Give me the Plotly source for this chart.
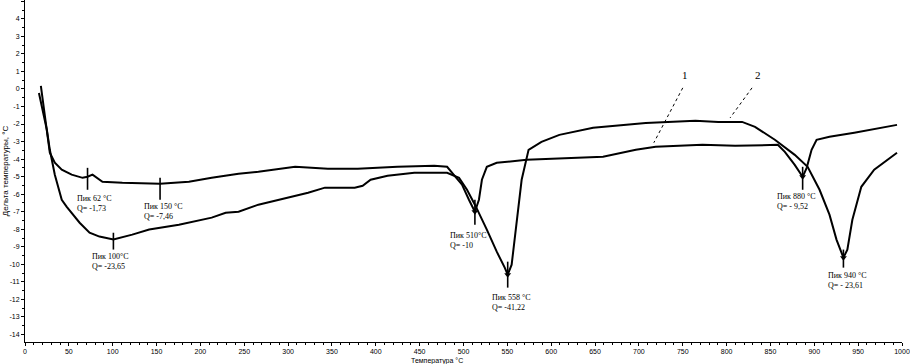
import plotly.graph_objects as go

# Curve 1 (lower curve on the right, peaks at 62, 150, 510, 880 °C)
t1 = [18.1, 21.5, 24.9, 28.3, 34.0, 41.9, 53.2, 65.7, 71.3, 77.0, 88.3, 111.0, 154.0,
      186.9, 212.9, 243.5, 266.1, 308.0, 345.4, 379.4, 424.7, 466.6, 481.3, 489.2,
      498.3, 506.2, 513.0, 517.6, 521.0, 526.6, 537.9, 571.9, 609.3, 659.1, 696.5,
      719.1, 772.4, 809.7, 858.4, 866.4, 877.7, 886.7, 891.3, 896.9, 902.6, 917.3,
      945.6, 994.3]
d1 = [0.17, -1.19, -2.62, -3.64, -4.21, -4.61, -4.89, -5.07, -5.01, -4.89, -5.29, -5.35,
      -5.41, -5.29, -5.07, -4.84, -4.72, -4.44, -4.55, -4.55, -4.44, -4.38, -4.44, -4.89,
      -5.46, -6.32, -7.00, -6.32, -5.18, -4.44, -4.21, -4.04, -3.98, -3.87, -3.47, -3.30,
      -3.19, -3.24, -3.19, -3.59, -4.33, -5.01, -4.50, -3.47, -2.90, -2.73, -2.50, -2.05]

# Curve 2 (upper curve on the right, peaks at 100, 558, 940 °C)
t2 = [15.9, 20.4, 24.9, 28.3, 34.0, 41.9, 47.6, 62.3, 73.6, 84.9, 100.8, 122.3, 141.6,
      175.5, 212.9, 228.8, 243.5, 266.1, 300.1, 322.8, 342.0, 376.0, 385.0, 394.1, 413.4,
      443.9, 481.3, 494.9, 504.0, 513.0, 526.6, 537.9, 547.0, 550.4, 554.9, 560.6, 566.3,
      574.2, 588.9, 609.3, 647.8, 707.8, 764.4, 790.5, 817.7, 832.4, 855.0, 877.7, 892.4,
      906.0, 917.3, 925.3, 933.2, 937.7, 943.4, 953.6, 968.3, 994.3]
d2 = [-0.23, -1.19, -2.33, -3.47, -4.89, -6.32, -6.72, -7.63, -8.20, -8.42, -8.59, -8.31,
      -8.02, -7.74, -7.34, -7.06, -7.00, -6.60, -6.20, -5.92, -5.63, -5.63, -5.52, -5.18,
      -4.95, -4.78, -4.78, -5.07, -5.75, -6.60, -8.02, -9.28, -10.19, -10.59, -10.02,
      -7.46, -5.18, -3.47, -3.02, -2.62, -2.22, -1.94, -1.82, -1.88, -1.88, -2.16, -2.90,
      -3.76, -4.44, -5.75, -7.17, -8.59, -9.62, -9.16, -7.46, -5.58, -4.61, -3.64]

# Peak markers: position, top and bottom of the marker line, arrow tip
peak_t = [71.3, 154.0, 100.8, 513.0, 550.4, 886.7, 933.2]
peak_top = [-4.50, -5.07, -8.20, -6.32, -9.85, -4.44, -9.16]
peak_bot = [-5.75, -6.32, -9.16, -7.74, -11.33, -5.75, -10.19]
peak_tip = [None, None, None, -7.00, -10.59, -5.01, -9.62]

# Peak labels
lab_text = ["Пик 62 °C<br>Q= -1,73", "Пик 150 °C<br>Q= -7,46", "Пик 100°C<br>Q= -23,65",
            "Пик 510°C<br>Q= -10", "Пик 558 °C<br>Q= -41,22", "Пик 880 °C<br>Q= - 9,52",
            "Пик 940 °C<br>Q= - 23,61"]
lab_t = [56.6, 133.6, 73.6, 482.4, 530.0, 855.0, 913.9]
lab_v = [-6.52, -6.97, -9.82, -8.62, -12.15, -6.40, -10.93]

# Curve number labels with dotted leaders
num_text = ["1", "2"]
num_t = [752, 836]
num_v = [0.8, 0.8]
lead_t0 = [750, 829]
lead_v0 = [0.06, 0.06]
lead_t1 = [717, 804]
lead_v1 = [-3.07, -1.65]

x_ticks = list(range(0, 1001, 50))
y_ticks = list(range(-14, 6))

fig = go.Figure()
fig.add_trace(go.Scatter(x=t1, y=d1, mode="lines", line=dict(color="black", width=2),
                         showlegend=False, hoverinfo="skip"))
fig.add_trace(go.Scatter(x=t2, y=d2, mode="lines", line=dict(color="black", width=2),
                         showlegend=False, hoverinfo="skip"))

for t, a, b, tip in zip(peak_t, peak_top, peak_bot, peak_tip):
    fig.add_trace(go.Scatter(x=[t, t], y=[a, b], mode="lines",
                             line=dict(color="black", width=1.6),
                             showlegend=False, hoverinfo="skip"))
    if tip is not None:
        fig.add_trace(go.Scatter(x=[t], y=[tip], mode="markers",
                                 marker=dict(symbol="triangle-down", size=6, color="black"),
                                 showlegend=False, hoverinfo="skip"))

for i in range(2):
    fig.add_trace(go.Scatter(x=[lead_t0[i], lead_t1[i]], y=[lead_v0[i], lead_v1[i]],
                             mode="lines", line=dict(color="black", width=1, dash="dot"),
                             showlegend=False, hoverinfo="skip"))
    fig.add_annotation(x=num_t[i], y=num_v[i], text=num_text[i], showarrow=False,
                       font=dict(family="Liberation Serif", size=11, color="black"),
                       xanchor="center", yanchor="middle")

for txt, t, v in zip(lab_text, lab_t, lab_v):
    fig.add_annotation(x=t, y=v, text=txt, showarrow=False, align="left",
                       xanchor="left", yanchor="middle",
                       font=dict(family="Liberation Serif", size=8, color="black"))

fig.add_annotation(xref="paper", yref="paper", x=0.47, y=-0.056, text="Температура °C",
                   showarrow=False, xanchor="center", yanchor="middle",
                   font=dict(family="Liberation Sans", size=7, color="black"))
fig.add_annotation(xref="paper", yref="paper", x=-0.0226, y=0.5, text="Дельта температуры, °C",
                   showarrow=False, textangle=-90, xanchor="center", yanchor="middle",
                   font=dict(family="Liberation Sans", size=8, color="black"))

fig.update_layout(
    width=910, height=364,
    margin=dict(l=25, r=8, t=0, b=22),
    paper_bgcolor="white", plot_bgcolor="white",
    xaxis=dict(range=[0, 1000], tickvals=x_ticks, ticktext=[str(v) for v in x_ticks],
               showgrid=False, zeroline=False, showline=True, linecolor="black",
               linewidth=1, ticks="outside", ticklen=3, tickcolor="black",
               tickfont=dict(family="Liberation Sans", size=7, color="black"),
               minor=dict(dtick=10, ticks="outside", ticklen=2, tickcolor="black")),
    yaxis=dict(range=[-14.43, 5.07], tickvals=y_ticks, ticktext=[str(v) for v in y_ticks],
               showgrid=False, zeroline=False, showline=True, linecolor="black",
               linewidth=1, ticks="outside", ticklen=3, tickcolor="black",
               tickfont=dict(family="Liberation Sans", size=7, color="black"),
               minor=dict(dtick=0.5, ticks="outside", ticklen=2, tickcolor="black")),
)

fig.write_html("out.html", config={"displayModeBar": False},
               post_script="document.body.style.margin='0';document.body.style.overflow='hidden';")
